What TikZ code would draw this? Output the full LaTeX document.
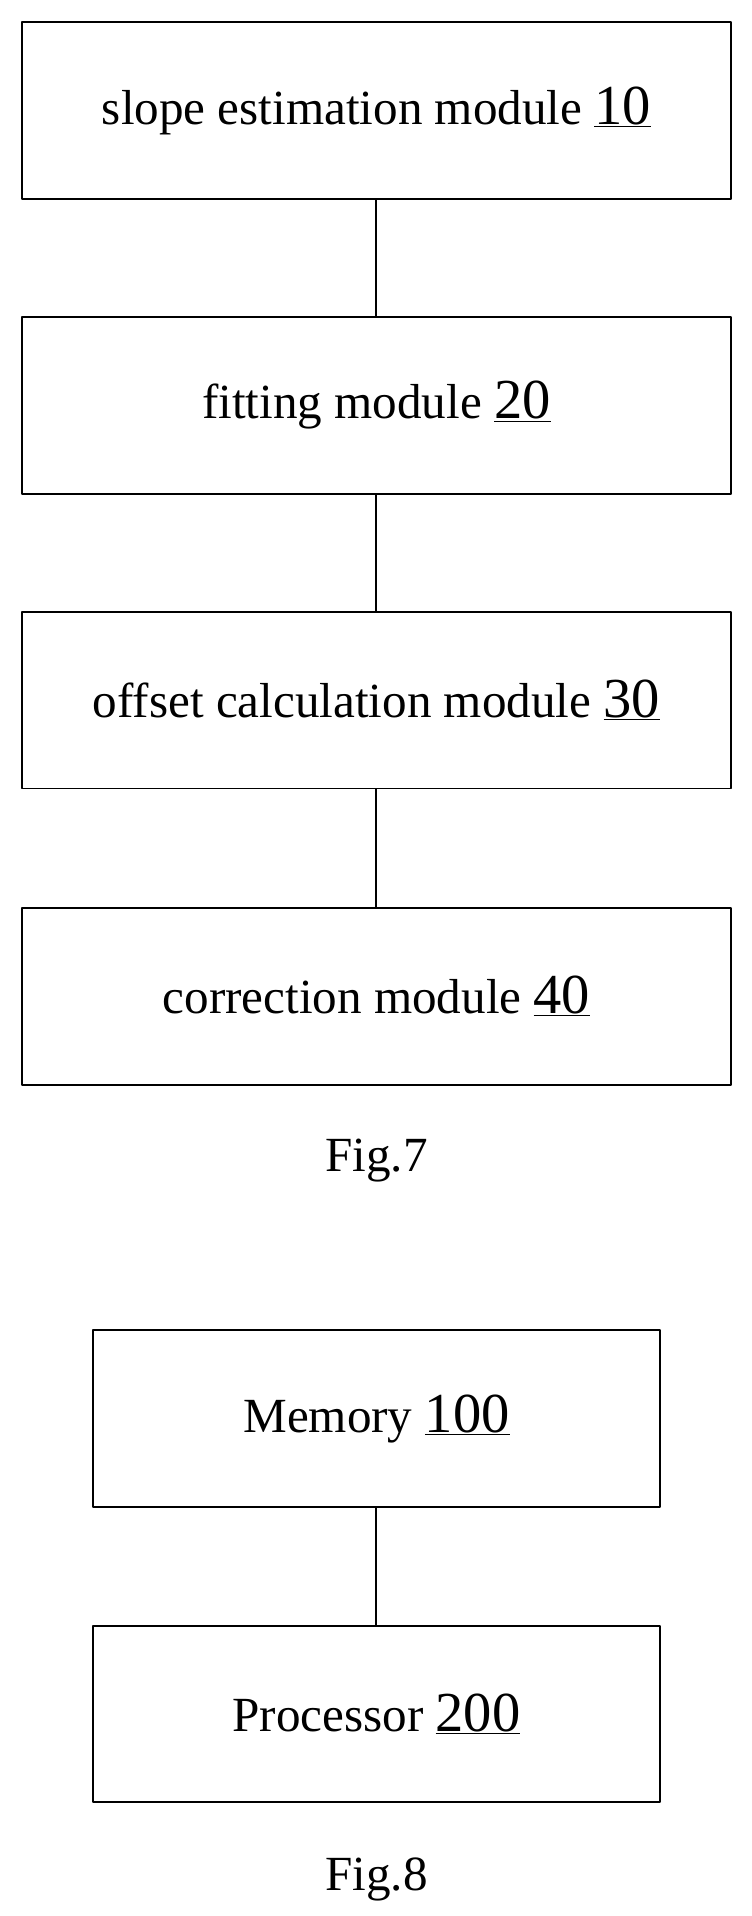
\documentclass[tikz,border=0pt]{standalone}
\usepackage{fontspec}
\setmainfont{Liberation Serif}
\usetikzlibrary{positioning}
\newcommand{\modnum}[1]{{\fontsize{46}{48}\selectfont\underline{#1}}}
\tikzset{
  modbox/.style={draw, line width=1.6pt, minimum width=577pt, minimum height=144pt, inner sep=0pt, font=\fontsize{40}{44}\selectfont},
  devbox/.style={modbox, minimum width=461pt},
  figlabel/.style={font=\fontsize{40}{44}\selectfont}
}
\begin{document}
\begin{tikzpicture}[x=1pt,y=-1pt, line join=round]
\useasboundingbox (0,0) rectangle (612,1560);
% Fig.7
\node[modbox] (slope) at (306.5,90) {slope estimation module \modnum{10}};
\node[modbox] (fit) at (306.5,330) {fitting module \modnum{20}};
\node[modbox] (offset) at (306.5,570) {offset calculation module \modnum{30}};
\node[modbox] (corr) at (306.5,811) {correction module \modnum{40}};
\draw[line width=1.6pt] (slope) -- (fit);
\draw[line width=1.6pt] (fit) -- (offset);
\draw[line width=1.6pt] (offset) -- (corr);
\node[figlabel] (fig7) at (306.5,945) {Fig.7};
% Fig.8
\node[devbox] (mem) at (306.5,1155) {Memory \modnum{100}};
\node[devbox] (proc) at (306.5,1395.5) {Processor \modnum{200}};
\draw[line width=1.6pt] (mem) -- (proc);
\node[figlabel] (fig8) at (306.5,1530) {Fig.8};
\end{tikzpicture}
\end{document}
